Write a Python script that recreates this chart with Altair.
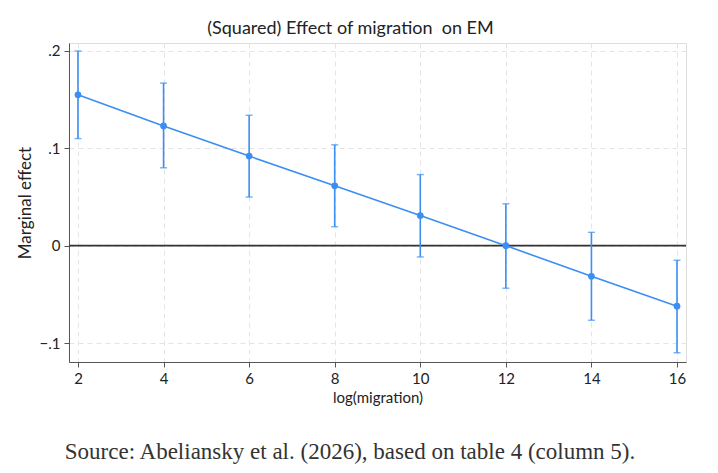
import altair as alt
import pandas as pd

x_vals = [2, 4, 6, 8, 10, 12, 14, 16]
effect = [0.155, 0.123, 0.092, 0.0615, 0.031, 0.0, -0.0315, -0.0622]
ci_low = [0.110, 0.080, 0.050, 0.0195, -0.0116, -0.0437, -0.0766, -0.110]
ci_high = [0.200, 0.167, 0.134, 0.1036, 0.073, 0.043, 0.0137, -0.015]
y_ticks = [-0.1, 0.0, 0.1, 0.2]
title_text = "(Squared) Effect of migration\u00a0 on EM"
source_text = "Source: Abeliansky et al. (2026), based on table 4 (column 5)."

df = pd.DataFrame({"x": x_vals, "eff": effect, "lo": ci_low, "hi": ci_high})

blue = "#3b8ef3"
font = "Lato"

xs = alt.Scale(domain=[1.79, 16.21], nice=False, zero=False)
ys = alt.Scale(domain=[-0.1195, 0.2082], nice=False, zero=False)

xaxis = alt.Axis(values=x_vals, title="log(migration)", grid=True, gridDash=[5, 4],
                 gridColor="#e4e4e4", labelFontSize=15, titleFontSize=15,
                 labelFont=font, titleFont=font, labelColor="#222", titleColor="#222",
                 titleFontWeight="normal",
                 domainColor="#555", tickColor="#555", tickSize=5, labelPadding=4,
                 titlePadding=4)
yaxis = alt.Axis(values=y_ticks, title="Marginal effect", grid=True, gridDash=[5, 4],
                 gridColor="#e4e4e4", labelFontSize=15, titleFontSize=17,
                 labelFont=font, titleFont=font, labelColor="#222", titleColor="#222",
                 titleFontWeight="normal",
                 domainColor="#555", tickColor="#555", tickSize=5, labelPadding=4,
                 titlePadding=5,
                 labelExpr="datum.value == 0 ? '0' : replace(format(datum.value, '.1f'), '0.', '.')")

base = alt.Chart(df)

zero = alt.Chart(pd.DataFrame({"y": [0.0]})).mark_rule(color="#333", strokeWidth=1.6).encode(
    y=alt.Y("y:Q", scale=ys, axis=yaxis)
)

bars = base.mark_rule(color=blue, strokeWidth=1.6).encode(
    x=alt.X("x:Q", scale=xs, axis=xaxis),
    y=alt.Y("lo:Q", scale=ys, axis=yaxis),
    y2="hi:Q",
)
caps_lo = base.mark_tick(color=blue, thickness=1.4, size=7, orient="horizontal").encode(
    x=alt.X("x:Q", scale=xs), y=alt.Y("lo:Q", scale=ys)
)
caps_hi = base.mark_tick(color=blue, thickness=1.4, size=7, orient="horizontal").encode(
    x=alt.X("x:Q", scale=xs), y=alt.Y("hi:Q", scale=ys)
)
line = base.mark_line(color=blue, strokeWidth=1.6).encode(
    x=alt.X("x:Q", scale=xs), y=alt.Y("eff:Q", scale=ys)
)
pts = base.mark_circle(color=blue, opacity=1, size=45).encode(
    x=alt.X("x:Q", scale=xs), y=alt.Y("eff:Q", scale=ys)
)

src = alt.Chart(pd.DataFrame({"t": [source_text]})).mark_text(
    font="Liberation Serif", fontSize=23, color="#333", align="center", baseline="middle"
).encode(text="t:N", x=alt.value(281), y=alt.value(409))

chart = alt.layer(zero, bars, caps_lo, caps_hi, line, pts, src).properties(
    width=617, height=319,
    title=alt.TitleParams(title_text, font=font, fontSize=18, fontWeight="normal",
                          color="#222", anchor="middle", offset=5, dx=-27),
    autosize=alt.AutoSizeParams(type="none"),
    padding={"left": 61, "top": 35, "right": 24, "bottom": 104},
).configure_view(stroke=None).configure(background="white")

chart.save("out.html", embed_options={"renderer": "svg", "actions": False})
